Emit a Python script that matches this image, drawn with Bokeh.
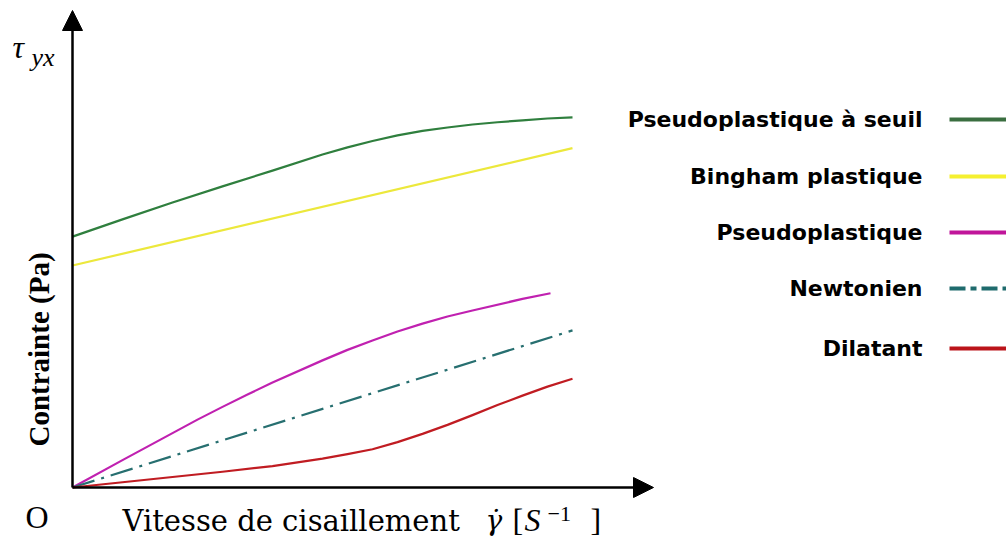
from math import pi
from bokeh.plotting import figure
from bokeh.models import Range1d, Arrow, NormalHead
from bokeh.core.properties import value
from bokeh.embed import file_html
from bokeh.resources import INLINE

# ---------------- data (arbitrary units) ----------------
x_seuil = [0, 1, 2, 3, 4, 5, 5.5, 6, 6.5, 7, 7.5, 8, 8.5, 9, 9.5, 10]
y_seuil = [6.69, 7.15, 7.60, 8.03, 8.45, 8.88, 9.07, 9.24, 9.39, 9.51, 9.60,
           9.68, 9.74, 9.79, 9.84, 9.87]

x_bingham = [0, 10]
y_bingham = [5.92, 9.05]

x_pseudo = [0, 1, 2, 2.5, 3, 3.5, 4, 5, 5.5, 6, 6.5, 7, 7.5, 8, 9, 9.56]
y_pseudo = [0, 0.73, 1.45, 1.81, 2.15, 2.48, 2.80, 3.39, 3.67, 3.92, 4.16, 4.37,
            4.56, 4.72, 5.03, 5.18]

x_newton = [0, 10]
y_newton = [0, 4.19]

x_dilat = [0, 1, 2, 3, 4, 5, 5.5, 6, 6.5, 7, 7.5, 8, 8.5, 9, 9.5, 10]
y_dilat = [0, 0.14, 0.28, 0.42, 0.57, 0.77, 0.89, 1.02, 1.21, 1.43, 1.67, 1.93,
           2.2, 2.45, 2.69, 2.90]

names = ["Pseudoplastique à seuil", "Bingham plastique", "Pseudoplastique",
         "Newtonien", "Dilatant"]
colors = ["#2f7f3e", "#ece83c", "#c021b0", "#276f70", "#c01c22"]
legend_colors = ["#3a6e40", "#f5f030", "#c0159a", "#1f6b6d", "#bb141a"]
dashes = ["solid", "solid", "solid", "23 7 3 7", "solid"]
legend_dashes = ["solid", "solid", "solid", "16 5 6 5", "solid"]

# ---------------- layout ----------------
W, H = 1006, 537
OX, OY = 72, 487          # origin in page pixels
XS, YS = 50.0, 37.5       # pixels per unit


def dx(sx):
    return (sx - OX) / XS


def dy(sy):
    return (OY - sy) / YS


p = figure(width=W, height=H, output_backend="svg", toolbar_location=None,
           x_range=Range1d(-OX / XS, (W - OX) / XS),
           y_range=Range1d(-(H - OY) / YS, OY / YS),
           x_axis_type=None, y_axis_type=None, min_border=0,
           outline_line_color=None)
p.grid.visible = False
p.background_fill_color = "white"
p.border_fill_color = "white"

# axes with arrows
p.add_layout(Arrow(end=NormalHead(size=20, fill_color="black", line_color="black"),
                   x_start=0, y_start=0, x_end=0, y_end=dy(10),
                   line_width=2.5, line_color="black"))
p.add_layout(Arrow(end=NormalHead(size=20, fill_color="black", line_color="black"),
                   x_start=0, y_start=0, x_end=dx(653), y_end=0,
                   line_width=2.5, line_color="black"))

series = [(x_seuil, y_seuil), (x_bingham, y_bingham), (x_pseudo, y_pseudo),
          (x_newton, y_newton), (x_dilat, y_dilat)]
for (xs, ys), c, d in zip(series, colors, dashes):
    p.line(xs, ys, line_color=c, line_width=2.2, line_dash=d, line_join="round")

# legend (drawn manually)
row_y = [119, 176, 232, 288, 348]
for nm, c, d, sy in zip(names, legend_colors, legend_dashes, row_y):
    p.text(x=[dx(922)], y=[dy(sy)], text=[nm], text_font=value("DejaVu Sans"),
           text_font_style="bold", text_font_size="22px", text_align="right",
           text_baseline="middle", text_color="black")
    p.line([dx(949), dx(1008)], [dy(sy), dy(sy)], line_color=c, line_width=4,
           line_dash=d)

serif = value("Liberation Serif")
dserif = value("DejaVu Serif")


def label(sx, sy, txt, size, font=serif, style="normal", **kw):
    p.text(x=[dx(sx)], y=[dy(sy)], text=[txt], text_font=font,
           text_font_style=style, text_font_size=size, text_baseline="middle",
           text_color="black", **kw)


# tau_yx
label(12, 46, "τ", "32px", style="italic")
label(31, 57, "yx", "26px", style="italic")
# origin
label(25, 516, "O", "32px")
# y label
label(38, 349, "Contrainte (Pa)", "29px", style="bold", angle=pi / 2,
      text_align="center")
# x label
label(122, 520, "Vitesse de cisaillement", "29px", font=dserif)
label(485, 520, "γ̇", "28px", font=dserif, style="italic")
label(512, 519, "[", "32px")
label(524, 519, "S", "32px", style="italic")
label(547, 513, "−1", "22px")
label(590, 519, "]", "32px")

open("out.html", "w").write(file_html(p, INLINE))
